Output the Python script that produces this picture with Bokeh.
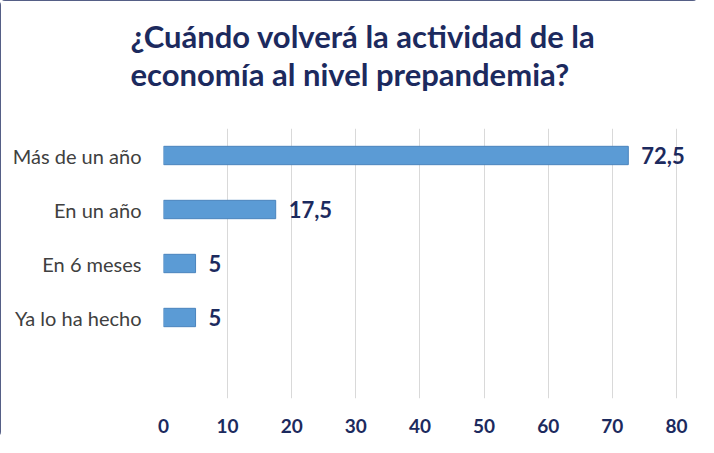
from bokeh.plotting import figure
from bokeh.models import FactorRange, Range1d, ColumnDataSource, FixedTicker, Title
from bokeh.core.properties import value
from bokeh.embed import file_html
from bokeh.resources import INLINE

categories = ["Más de un año", "En un año", "En 6 meses", "Ya lo ha hecho"]
values = [72.5, 17.5, 5, 5]
value_labels = ["72,5", "17,5", "5", "5"]
x_ticks = [0, 10, 20, 30, 40, 50, 60, 70, 80]
title_lines = ["¿Cuándo volverá la actividad de la", "economía al nivel prepandemia?"]

NAVY = "#1c2a5e"
factors = [" "] + categories[::-1]

W, H = 698, 437
p = figure(width=W, height=H, output_backend="svg", toolbar_location=None,
           y_range=FactorRange(*factors, range_padding=0), x_range=Range1d(0, 82.2),
           min_border_left=163, min_border_right=8, min_border_bottom=39, min_border_top=128)
p.styles = {"outline": "4px solid #1c2a5e", "outline-offset": "-4px", "border-radius": "5px"}

p.title = Title(text="\n".join(title_lines), align="left", offset=-33, text_font="Lato",
                text_font_size="31px", text_font_style="bold", text_color=NAVY,
                standoff=0, text_line_height=1.0)
# spacer between the title and the plot area
p.add_layout(Title(text=" ", text_font_size="1px", text_color="white", standoff=33), "above")

src = ColumnDataSource(dict(cat=categories, val=values, lab=value_labels))
p.hbar(y="cat", right="val", left=0, height=0.34, source=src,
       fill_color="#5b9bd5", line_color="#4a84bd", line_width=1)
p.text(x="val", y="cat", text="lab", source=src, x_offset=13,
       text_baseline="middle", text_align="left", text_font=value("Lato"),
       text_font_size="22px", text_font_style="bold", text_color=NAVY)

p.xaxis.ticker = FixedTicker(ticks=x_ticks)
p.xaxis.axis_line_color = None
p.xaxis.major_tick_line_color = None
p.xaxis.minor_tick_line_color = None
p.xaxis.major_label_text_font = "Lato"
p.xaxis.major_label_text_font_size = "19px"
p.xaxis.major_label_text_font_style = "bold"
p.xaxis.major_label_text_color = NAVY
p.xaxis.major_label_standoff = 14

p.yaxis.axis_line_color = None
p.yaxis.major_tick_line_color = None
p.yaxis.major_label_text_font = "Lato"
p.yaxis.major_label_text_font_size = "20px"
p.yaxis.major_label_text_color = "#404040"
p.yaxis.major_label_standoff = 16

p.xgrid.grid_line_color = "#d9d9d9"
p.ygrid.grid_line_color = None
p.outline_line_color = None

open("out.html", "w").write(file_html(p, INLINE))
